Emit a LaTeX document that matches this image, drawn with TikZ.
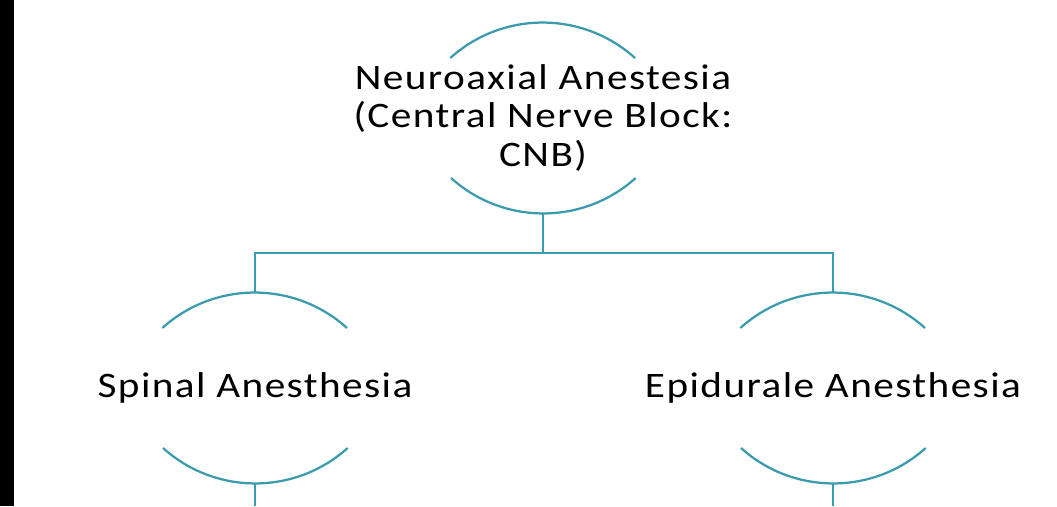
\documentclass[tikz,border=0pt]{standalone}
\usepackage{fontspec}
\setmainfont{Carlito}[LetterSpace=4,FakeStretch=1.15]
\usepackage{tikz}
\usetikzlibrary{calc}
\definecolor{cnb}{RGB}{58,154,174}

\begin{document}
\begin{tikzpicture}[x=0.025cm,y=0.025cm,
    rim/.style={cnb,line width=1.6pt},
    link/.style={cnb,line width=2pt},
    txt/.style={font=\fontsize{25.5}{27.7}\selectfont,align=center,inner sep=0pt}]
  \useasboundingbox (0,0) rectangle (1057,506);
  \fill[black] (0,0) rectangle (14,506);
  \node[txt] (top) at (543,388) {Neuroaxial Anestesia\\(Central Nerve Block:\\CNB)};
  \node[txt] (spinal) at (255,118) {Spinal Anesthesia};
  \node[txt] (epi) at (833,118) {Epidurale Anesthesia};
  % arcs above and below each text
  \foreach \n in {top,spinal,epi} {
    \draw[rim] ($(\n.center)+(92,60)$) arc[start angle=48,end angle=132,radius=138];
    \draw[rim] ($(\n.center)+(-92,-60)$) arc[start angle=228,end angle=312,radius=138];
    \coordinate (\n-n) at ($(\n.center)+(0,95)$);
    \coordinate (\n-s) at ($(\n.center)+(0,-95)$);
  }
  \coordinate (bus) at (543,253);
  \coordinate (spinal-end) at (255,0);
  \coordinate (epi-end) at (833,0);
  \draw[link] (top-s) -- (bus);
  \draw[link] (spinal-n) |- (bus) -| (epi-n);
  \draw[link] (spinal-s) -- (spinal-end);
  \draw[link] (epi-s) -- (epi-end);
\end{tikzpicture}
\end{document}
